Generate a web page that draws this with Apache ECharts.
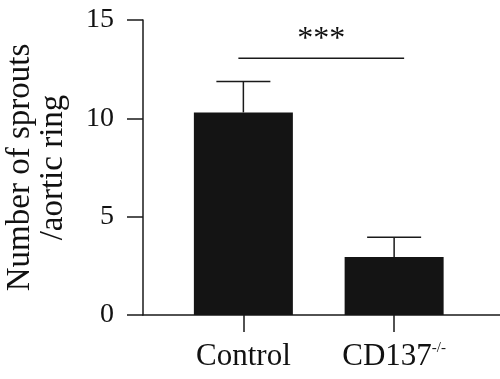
<!DOCTYPE html>
<html>
<head>
<meta charset="utf-8">
<script src="https://cdn.jsdelivr.net/npm/echarts@6/dist/echarts.min.js"></script>
<style>
html,body{margin:0;padding:0;background:#fff;}
#c{width:500px;height:379px;}
</style>
</head>
<body>
<div id="c"></div>
<script>
const categories = ['Control', 'CD137-/-'];
const means = [10.3, 2.95];
const errors = [1.57, 1.0];
const sigValue = 13.05;
const sigText = '***';
const yTicks = [0, 5, 10, 15];
const yTitle = 'Number of sprouts\n/aortic ring';

const FONT = '"Liberation Serif","Times New Roman",serif';
const INK = '#1a1a1a';

const chart = echarts.init(document.getElementById('c'), null, {renderer: 'canvas'});

const errData = categories.map((c, i) => [i, means[i], means[i] + errors[i]]);

const option = {
  animation: false,
  backgroundColor: '#fff',
  grid: [
    {left: 143, right: 0, top: 20, bottom: 64, outerBoundsMode: 'none', containLabel: false},
    {left: 168, right: 30.5, top: 20, bottom: 64, outerBoundsMode: 'none', containLabel: false}
  ],
  xAxis: [
    {
      type: 'value', gridIndex: 0, min: 0, max: 1,
      axisLine: {show: true, onZero: false, lineStyle: {color: INK, width: 1.5}},
      axisTick: {show: false}, axisLabel: {show: false}, splitLine: {show: false}
    },
    {
      type: 'category', gridIndex: 1, data: categories,
      axisLine: {show: false},
      axisTick: {show: true, alignWithLabel: true, length: 17, lineStyle: {color: INK, width: 1.5}},
      axisLabel: {
        margin: 26, color: '#111',
        formatter: function (v) {
          const m = v.match(/^(.*?)(-\/-)$/);
          return m ? '{a|' + m[1] + '}{s|' + m[2] + '}' : '{a|' + v + '}';
        },
        rich: {
          a: {fontSize: 31, fontFamily: FONT, color: '#111', lineHeight: 31},
          s: {fontSize: 15, fontFamily: FONT, color: '#111', verticalAlign: 'top', lineHeight: 15}
        }
      },
      splitLine: {show: false}
    }
  ],
  yAxis: [
    {
      type: 'value', gridIndex: 0, min: 0, max: 15, interval: 5,
      axisLine: {show: true, lineStyle: {color: INK, width: 1.5}},
      axisTick: {show: true, length: 16, lineStyle: {color: INK, width: 1.5}},
      axisLabel: {margin: 29, fontSize: 28, fontFamily: FONT, color: '#111',
        customValues: yTicks},
      splitLine: {show: false},
      name: yTitle, nameLocation: 'middle', nameGap: 73,
      nameTextStyle: {fontSize: 33, fontFamily: FONT, color: '#111', lineHeight: 33, align: 'center'}
    },
    {
      type: 'value', gridIndex: 1, min: 0, max: 15, interval: 5, show: false
    }
  ],
  series: [
    {
      type: 'bar', xAxisIndex: 1, yAxisIndex: 1, data: means, barWidth: 99,
      itemStyle: {color: '#141414'}, z: 2
    },
    {
      type: 'custom', xAxisIndex: 1, yAxisIndex: 1, data: errData, z: 3,
      encode: {x: 0, y: [1, 2]},
      renderItem: function (params, api) {
        const b = api.coord([api.value(0), api.value(1)]);
        const t = api.coord([api.value(0), api.value(2)]);
        const st = {stroke: INK, lineWidth: 1.5};
        return {type: 'group', children: [
          {type: 'line', shape: {x1: b[0], y1: b[1], x2: t[0], y2: t[1]}, style: st},
          {type: 'line', shape: {x1: t[0] - 27, y1: t[1], x2: t[0] + 27, y2: t[1]}, style: st}
        ]};
      }
    },
    {
      type: 'custom', xAxisIndex: 1, yAxisIndex: 1, data: [[0, 1, sigValue]], z: 3,
      encode: {x: 0, y: 2},
      renderItem: function (params, api) {
        const p1 = api.coord([api.value(0), api.value(2)]);
        const p2 = api.coord([api.value(1), api.value(2)]);
        const x1 = p1[0] - 5, x2 = p2[0] + 10;
        return {type: 'group', children: [
          {type: 'line', shape: {x1: x1, y1: p1[1], x2: x2, y2: p1[1]}, style: {stroke: INK, lineWidth: 1.5}},
          {type: 'text', style: {text: sigText, x: (x1 + x2) / 2, y: p1[1] - 3, align: 'center',
            verticalAlign: 'bottom', fontSize: 32, fontFamily: FONT, fill: '#111'}}
        ]};
      }
    }
  ]
};
chart.setOption(option);
</script>
</body>
</html>
